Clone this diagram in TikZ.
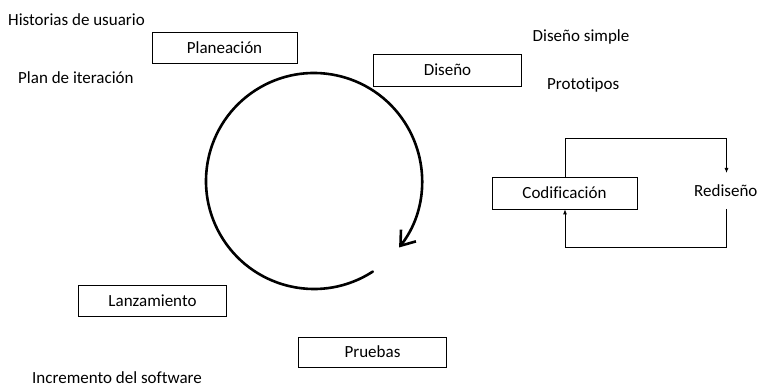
\documentclass[tikz,border=0pt]{standalone}
\usepackage{fontspec}
\setmainfont{Carlito}[Ligatures=NoCommon]
\usetikzlibrary{arrows.meta}
\begin{document}
\begin{tikzpicture}[x=1pt,y=-1pt,
  font=\fontsize{17}{20}\selectfont,
  phase/.style={draw, line width=0.8pt, minimum width=145pt, minimum height=31pt, inner sep=0pt},
  note/.style={anchor=base west, inner sep=0pt},
  loopline/.style={line width=0.8pt, -{Latex[length=5pt,width=4pt]}},
  cycle/.style={line width=2.6pt, line cap=round, -{Straight Barb[length=13pt,width=19pt,line width=2.6pt]}}]
\useasboundingbox (0,0) rectangle (758,387);

% phase boxes
\node[phase] (plan) at (224.5,47.5) {Planeación};
\node[phase, minimum width=148pt, minimum height=32pt] (dis) at (447.5,70) {Diseño};
\node[phase, minimum height=32pt] (cod) at (564.5,193) {Codificación};
\node[phase, minimum width=148pt] (lan) at (152.5,301) {Lanzamiento};
\node[phase, minimum width=148pt, minimum height=30pt] (pru) at (372.5,352) {Pruebas};

% side notes
\node[note] (hist) at (8,25.5) {Historias de usuario};
\node[note] (pit) at (18,84) {Plan de iteración};
\node[note] (dsim) at (532.5,42) {Diseño simple};
\node[note] (proto) at (547,90) {Prototipos};
\node[note] (inc) at (32,384) {Incremento del software};
\node[note] (red) at (694,197) {Rediseño};

% redesign loop
\coordinate (rtop) at (726.5,173);
\coordinate (rbot) at (726.5,209);
\draw[loopline] ([xshift=0.5pt]cod.north) |- (726.5,138.5) -- (rtop);
\draw[loopline] (rbot) -- (726.5,247) -| ([xshift=0.5pt]cod.south);

% iteration cycle, running clockwise from the lower right
\coordinate (c) at (314,181);
\draw[cycle] ([shift={(57:108)}]c) arc[start angle=57, end angle=398, radius=108];
\end{tikzpicture}
\end{document}
